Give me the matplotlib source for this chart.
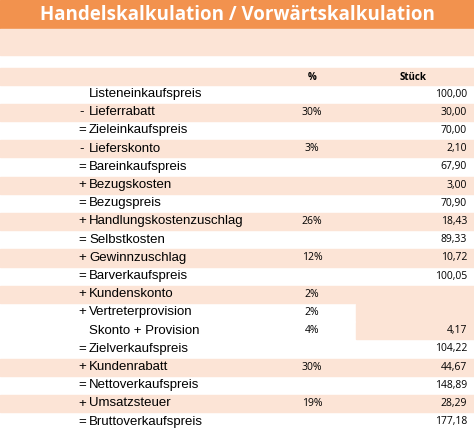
import matplotlib.pyplot as plt
from matplotlib.patches import Rectangle

titel = "Handelskalkulation / Vorwärtskalkulation"
vorzeichen = ["", "-", "=", "-", "=", "+", "=", "+", "=", "+", "=", "+", "+", "", "=", "+", "=", "+", "="]
posten = ["Listeneinkaufspreis", "Lieferrabatt", "Zieleinkaufspreis", "Lieferskonto",
          "Bareinkaufspreis", "Bezugskosten", "Bezugspreis", "Handlungskostenzuschlag",
          "Selbstkosten", "Gewinnzuschlag", "Barverkaufspreis", "Kundenskonto",
          "Vertreterprovision", "Skonto + Provision", "Zielverkaufspreis", "Kundenrabatt",
          "Nettoverkaufspreis", "Umsatzsteuer", "Bruttoverkaufspreis"]
prozent = ["", "30%", "", "3%", "", "", "", "26%", "", "12%", "", "2%", "2%", "4%",
           "", "30%", "", "19%", ""]
stueck = ["100,00", "30,00", "70,00", "2,10", "67,90", "3,00", "70,90", "18,43", "89,33",
          "10,72", "100,05", "", "", "4,17", "104,22", "44,67", "148,89", "28,29", "177,18"]

W, H = 474, 437
peach = "#FCE4D6"
orange = "#F2924E"

fig = plt.figure(figsize=(W / 100, H / 100), dpi=100)
ax = fig.add_axes([0, 0, 1, 1])
ax.set_xlim(0, W)
ax.set_ylim(H, 0)
ax.axis("off")

# Titel und Kopf
ax.add_patch(Rectangle((0, 0), W, 28, color=orange))
ax.text(W / 2, 15, titel, ha="center", va="center", color="white",
        fontsize=13.5, fontweight="bold", family="Open Sans")
ax.add_patch(Rectangle((0, 29), W, 26, color=peach))
ax.add_patch(Rectangle((0, 68), W, 17, color=peach))
ax.text(312, 77, "%", ha="center", va="center", fontsize=7, fontweight="bold", family="Open Sans")
ax.text(413, 77, "Stück", ha="center", va="center", fontsize=7, fontweight="bold", family="Open Sans")

y0, rh = 85, 18.2
for i in range(len(posten)):
    y = y0 + i * rh
    if posten[i] in ("Vertreterprovision", "Skonto + Provision"):
        ax.add_patch(Rectangle((356, y + 0.5), W - 356, rh - 1, color=peach))
    elif i % 2 == 1:
        ax.add_patch(Rectangle((0, y + 0.5), W, rh - 1, color=peach))
    yc = y + rh / 2
    ax.text(82, yc, vorzeichen[i], ha="center", va="center", fontsize=9.5, family="Liberation Sans")
    ax.text(89, yc, posten[i], ha="left", va="center", fontsize=9.5, family="Liberation Sans")
    ax.text(312, yc, prozent[i], ha="center", va="center", fontsize=7.5, family="Open Sans")
    ax.text(467, yc, stueck[i], ha="right", va="center", fontsize=7.5, family="Open Sans")

fig.savefig("out.png", dpi=100)
